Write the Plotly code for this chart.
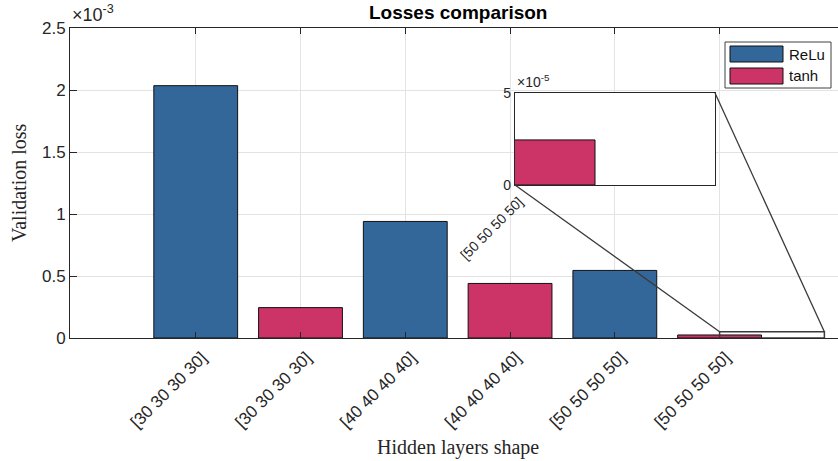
import plotly.graph_objects as go

# ---- data -------------------------------------------------------------
series_names = ["ReLu", "tanh"]
layer_shapes = ["[30 30 30 30]", "[40 40 40 40]", "[50 50 50 50]"]
relu_loss = [2.035e-3, 0.94e-3, 0.545e-3]
tanh_loss = [0.245e-3, 0.44e-3, 2.45e-5]

y_ticks = [0, 0.5e-3, 1.0e-3, 1.5e-3, 2.0e-3, 2.5e-3]
y_tick_text = ["0", "0.5", "1", "1.5", "2", "2.5"]
inset_y_ticks = [0, 5e-5]
inset_y_tick_text = ["0", "5"]

# ---- styling ------------------------------------------------------------
BLUE = "#336699"
PINK = "#cc3366"
AX = "#262626"
GRID = "#e3e3e3"
SANS = "Liberation Sans, Arial, sans-serif"
SERIF = "Liberation Serif, Times New Roman, serif"

W, H = 838, 461
ML, MT, MB = 70, 28, 123
PW, PH = W - ML, H - MT - MB

# bar positions: each shape gets a ReLu bar followed by a tanh bar
relu_x = [2 * i + 1 for i in range(len(layer_shapes))]
tanh_x = [2 * i + 2 for i in range(len(layer_shapes))]
cat_x = sorted(relu_x + tanh_x)
cat_text = [layer_shapes[(p - 1) // 2] for p in cat_x]

x_range = [-0.2, 7.13]
y_range = [0, 2.5e-3]

# zoomed region (last tanh bar)
zoom_x = [tanh_x[-1], tanh_x[-1] + 1]
zoom_y = [0, 5e-5]
inset_xdom = [(515 - ML) / PW, (715 - ML) / PW]
inset_ydom = [(MT + PH - 185) / PH, (MT + PH - 93) / PH]


def px(v, rng, dom):
    return dom[0] + (v - rng[0]) / (rng[1] - rng[0]) * (dom[1] - dom[0])


fig = go.Figure()
fig.add_trace(go.Bar(x=relu_x, y=relu_loss, name=series_names[0], width=0.8,
                     marker=dict(color=BLUE, line=dict(color="#111111", width=1)),
                     showlegend=False))
fig.add_trace(go.Bar(x=tanh_x, y=tanh_loss, name=series_names[1], width=0.8,
                     marker=dict(color=PINK, line=dict(color="#111111", width=1)),
                     showlegend=False))
# inset bar
fig.add_trace(go.Bar(x=[tanh_x[-1]], y=[tanh_loss[-1]], width=0.8,
                     xaxis="x2", yaxis="y2",
                     marker=dict(color=PINK, line=dict(color="#111111", width=1)),
                     showlegend=False))

axis_font = dict(family=SANS, size=17, color=AX)
inset_font = dict(family=SANS, size=14, color=AX)

fig.update_layout(
    width=W, height=H,
    margin=dict(l=ML, r=0, t=MT, b=MB),
    paper_bgcolor="white", plot_bgcolor="white",
    barmode="overlay",
    showlegend=False,
    xaxis=dict(domain=[0, 1], range=x_range, tickvals=cat_x, ticktext=cat_text,
               tickangle=-45, tickfont=axis_font, showgrid=True, gridcolor=GRID,
               gridwidth=1, zeroline=False, showline=True, linecolor=AX,
               linewidth=1, mirror="allticks", ticks="inside", ticklen=6,
               tickcolor=AX, ticklabelshift=6, ticklabelstandoff=2),
    yaxis=dict(domain=[0, 1], range=y_range, tickvals=y_ticks,
               ticktext=y_tick_text, tickfont=axis_font, showgrid=True,
               gridcolor=GRID, gridwidth=1, zeroline=False, showline=True,
               linecolor=AX, linewidth=1, ticks="inside", ticklen=7,
               tickcolor=AX),
    xaxis2=dict(domain=inset_xdom, range=zoom_x, anchor="y2",
                tickvals=[tanh_x[-1]], ticktext=[cat_text[-1]], tickangle=-45,
                tickfont=inset_font, showgrid=False, zeroline=False,
                showline=True, linecolor=AX, linewidth=1.3, mirror=True,
                ticks="", ticklabelshift=4, ticklabelstandoff=2),
    yaxis2=dict(domain=inset_ydom, range=zoom_y, anchor="x2",
                tickvals=inset_y_ticks, ticktext=inset_y_tick_text,
                tickfont=inset_font, showgrid=False, zeroline=False,
                showline=True, linecolor=AX, linewidth=1.3, mirror=True,
                ticks=""),
)

shapes = []
# white background under the inset
shapes.append(dict(type="rect", xref="x2", yref="y2", x0=zoom_x[0], x1=zoom_x[1],
                   y0=zoom_y[0], y1=zoom_y[1], layer="below",
                   fillcolor="white", line=dict(width=0)))
# zoom box on the main axes
shapes.append(dict(type="rect", xref="x", yref="y", x0=zoom_x[0], x1=zoom_x[1],
                   y0=zoom_y[0], y1=zoom_y[1], layer="above",
                   line=dict(color="#3a3a3a", width=1.5)))
# connector lines between inset and zoom box
for (ix, iy), (mx, my) in [((zoom_x[0], zoom_y[0]), (zoom_x[0], zoom_y[1])),
                           ((zoom_x[1], zoom_y[1]), (zoom_x[1], zoom_y[1]))]:
    shapes.append(dict(type="line", xref="paper", yref="paper",
                       x0=px(ix, zoom_x, inset_xdom), y0=px(iy, zoom_y, inset_ydom),
                       x1=px(mx, x_range, [0, 1]), y1=px(my, y_range, [0, 1]),
                       line=dict(color="#3a3a3a", width=1.3)))

# legend box
def lx(p):
    return (p - ML) / PW


def ly(p):
    return (MT + PH - p) / PH


shapes.append(dict(type="rect", xref="paper", yref="paper", x0=lx(725), x1=lx(831),
                   y0=ly(88), y1=ly(42), fillcolor="white",
                   line=dict(color="#404040", width=1)))
annotations = []
for k, (name, col) in enumerate(zip(series_names, [BLUE, PINK])):
    top = 46 + 22 * k
    shapes.append(dict(type="rect", xref="paper", yref="paper", x0=lx(730),
                       x1=lx(783), y0=ly(top + 16), y1=ly(top), fillcolor=col,
                       line=dict(color="#111111", width=1)))
    annotations.append(dict(text=name, xref="paper", yref="paper", x=lx(787),
                            y=ly(top + 8), xanchor="left", yanchor="middle",
                            showarrow=False,
                            font=dict(family=SANS, size=15, color="#111111")))

mid_x = (-0.2 + 7.2) / 2
annotations += [
    dict(text="<b>Losses comparison</b>", xref="x", yref="paper", x=mid_x,
         y=ly(12), xanchor="center", yanchor="middle", showarrow=False,
         font=dict(family=SANS, size=19, color="#000000")),
    dict(text="Hidden layers shape", xref="x", yref="paper", x=mid_x,
         y=ly(447), xanchor="center", yanchor="middle", showarrow=False,
         font=dict(family=SERIF, size=20, color=AX)),
    dict(text="Validation loss", xref="paper", yref="paper", x=lx(19), y=0.5,
         xanchor="center", yanchor="middle", textangle=-90, showarrow=False,
         font=dict(family=SERIF, size=20, color=AX)),
    dict(text="×10<sup>-3</sup>", xref="paper", yref="paper", x=lx(70),
         y=ly(27), xanchor="left", yanchor="bottom", showarrow=False,
         font=dict(family=SANS, size=18, color=AX)),
    dict(text="×10<sup>-5</sup>", xref="paper", yref="paper", x=lx(515),
         y=ly(92), xanchor="left", yanchor="bottom", showarrow=False,
         font=dict(family=SANS, size=14, color=AX)),
]

fig.update_layout(shapes=shapes, annotations=annotations)
fig.write_html("out.html")
